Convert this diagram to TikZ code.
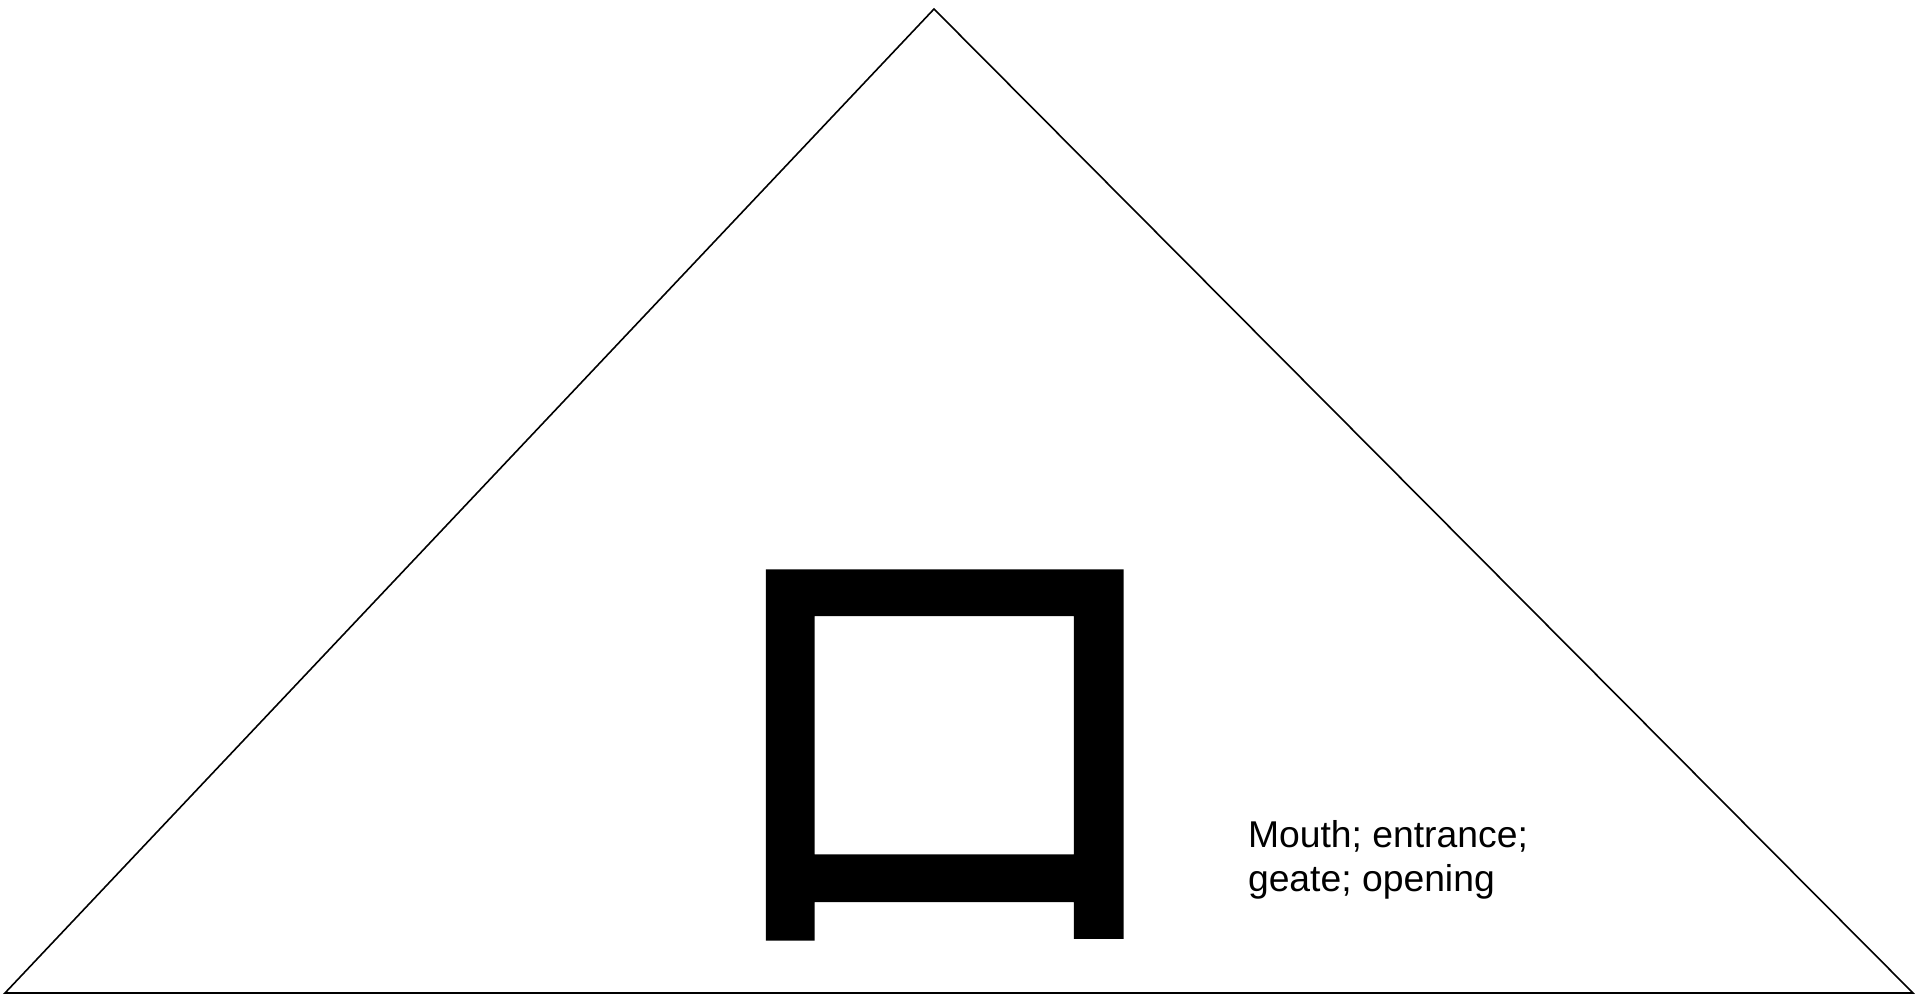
\documentclass[tikz,border=0pt]{standalone}
\usepackage{fontspec}
\setmainfont{Liberation Sans}
\newfontfamily\cjk{Noto Sans CJK SC}[FakeBold=2.8]
\begin{document}
\begin{tikzpicture}[x=1pt,y=-1pt,
  edge/.style={draw=black,line width=1.6pt,line join=miter},
  glyph/.style={inner sep=0pt,outer sep=0pt,xscale=1.046,yscale=1.031,font=\cjk\fontsize{440}{440}\selectfont},
  meaning/.style={inner sep=0pt,outer sep=0pt,anchor=base west,align=left,font=\fontsize{37.3}{43.5}\selectfont}]
\useasboundingbox (0,0) rectangle (1920,994);
\coordinate (apex) at (934,9);
\coordinate (bl) at (5,993);
\coordinate (br) at (1913,993);
\draw[edge] (bl) -- (apex) -- (br) -- cycle;
\node[glyph] (kou) at (944,755) {口};
\node[meaning] (txt) at (1248,891) {Mouth; entrance;\\geate; opening};
\end{tikzpicture}
\end{document}
